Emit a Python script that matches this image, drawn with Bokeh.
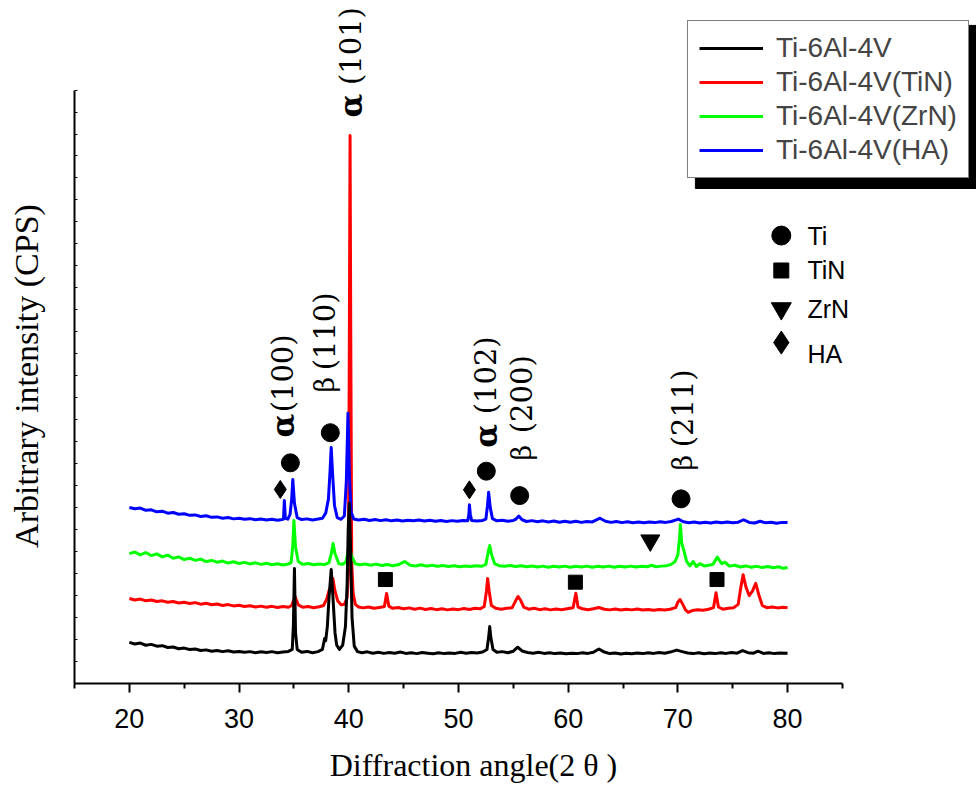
import math
from bokeh.plotting import figure
from bokeh.models import Range1d, FixedTicker, Legend, LegendItem
from bokeh.core.properties import value
from bokeh.embed import file_html
from bokeh.resources import INLINE

# ---------------- data (2-theta, arbitrary stacked intensity) ----------------
black_pts = [(20, 1.87), (20.5, 1.80), (21, 1.84), (21.5, 1.74), (22, 1.78), (22.5, 1.70), (23, 1.72), (23.5, 1.64),
             (24, 1.66), (24.5, 1.58), (25, 1.61), (25.5, 1.55), (26, 1.57), (26.5, 1.50), (27, 1.53), (27.5, 1.47),
             (28, 1.50), (28.5, 1.45), (29, 1.49), (29.5, 1.43), (30, 1.46), (30.5, 1.42), (31, 1.45), (31.5, 1.40),
             (32, 1.44), (32.5, 1.41), (33, 1.45), (33.5, 1.40), (34, 1.43), (34.5, 1.46), (34.85, 1.55), (34.95, 2.6),
             (35.05, 5.23), (35.15, 2.3), (35.3, 1.55), (35.7, 1.42), (36.2, 1.46), (36.7, 1.40), (37.2, 1.45),
             (37.6, 1.55), (37.8, 2.05), (37.9, 1.95), (38.05, 2.6), (38.2, 3.9), (38.4, 5.19), (38.55, 4.0),
             (38.75, 2.3), (38.9, 1.75), (39.15, 1.55), (39.45, 1.75), (39.7, 2.6), (39.85, 4.5), (39.95, 7.0),
             (40.05, 8.2), (40.15, 6.5), (40.3, 3.0), (40.5, 1.7), (40.8, 1.45), (41.2, 1.40), (41.7, 1.44),
             (42.2, 1.38), (42.7, 1.42), (43.2, 1.37), (43.7, 1.41), (44.2, 1.38), (44.7, 1.43), (45.2, 1.37),
             (45.7, 1.40), (46.2, 1.36), (46.7, 1.41), (47.2, 1.38), (47.7, 1.35), (48.2, 1.40), (48.7, 1.36),
             (49.2, 1.39), (49.7, 1.37), (50.2, 1.42), (50.7, 1.38), (51.2, 1.41), (51.7, 1.39), (52.2, 1.43),
             (52.6, 1.55), (52.75, 2.1), (52.85, 2.59), (52.95, 2.1), (53.15, 1.55), (53.5, 1.42), (54.0, 1.45),
             (54.5, 1.40), (55.0, 1.47), (55.4, 1.65), (55.8, 1.48), (56.3, 1.41), (56.8, 1.38), (57.3, 1.42),
             (57.8, 1.37), (58.3, 1.40), (58.8, 1.36), (59.3, 1.39), (59.8, 1.35), (60.3, 1.38), (60.8, 1.36),
             (61.3, 1.40), (61.8, 1.37), (62.3, 1.42), (62.8, 1.57), (63.3, 1.43), (63.8, 1.36), (64.3, 1.39),
             (64.8, 1.34), (65.3, 1.38), (65.8, 1.35), (66.3, 1.39), (66.8, 1.36), (67.3, 1.40), (67.8, 1.37),
             (68.3, 1.41), (68.8, 1.38), (69.3, 1.43), (69.9, 1.52), (70.4, 1.45), (70.9, 1.39), (71.4, 1.36),
             (71.9, 1.40), (72.4, 1.35), (72.9, 1.39), (73.4, 1.36), (73.9, 1.40), (74.4, 1.37), (74.9, 1.41),
             (75.4, 1.38), (75.9, 1.50), (76.4, 1.40), (76.9, 1.38), (77.3, 1.47), (77.8, 1.37), (78.3, 1.40),
             (78.8, 1.36), (79.3, 1.39), (80, 1.38)]

tin_pts = [(20, 3.87), (20.5, 3.80), (21, 3.84), (21.5, 3.76), (22, 3.80), (22.5, 3.73), (23, 3.76), (23.5, 3.70),
           (24, 3.73), (24.5, 3.66), (25, 3.70), (25.5, 3.64), (26, 3.68), (26.5, 3.61), (27, 3.65), (27.5, 3.58),
           (28, 3.62), (28.5, 3.55), (29, 3.59), (29.5, 3.53), (30, 3.56), (30.5, 3.50), (31, 3.54), (31.5, 3.48),
           (32, 3.52), (32.5, 3.47), (33, 3.51), (33.5, 3.46), (34, 3.50), (34.5, 3.47), (34.8, 3.55), (35.1, 3.96),
           (35.4, 3.58), (35.8, 3.47), (36.3, 3.50), (36.8, 3.45), (37.3, 3.49), (37.7, 3.55), (38.0, 3.85),
           (38.2, 4.23), (38.4, 4.4), (38.55, 4.78), (38.75, 4.2), (39.0, 3.75), (39.3, 3.58), (39.6, 3.6),
           (39.85, 3.9), (39.97, 5.0), (40.05, 15.0), (40.12, 24.93), (40.19, 15.0), (40.27, 5.5), (40.4, 4.1),
           (40.6, 3.6), (40.9, 3.48), (41.3, 3.44), (41.8, 3.48), (42.3, 3.42), (42.8, 3.46), (43.25, 3.50),
           (43.45, 4.09), (43.65, 3.52), (44.0, 3.42), (44.5, 3.46), (45.0, 3.40), (45.5, 3.44), (46.0, 3.38),
           (46.5, 3.43), (47.0, 3.37), (47.5, 3.41), (48.0, 3.36), (48.5, 3.40), (49.0, 3.35), (49.5, 3.39),
           (50.0, 3.36), (50.5, 3.41), (51.0, 3.37), (51.5, 3.42), (52.0, 3.40), (52.35, 3.50), (52.55, 4.2),
           (52.66, 4.78), (52.8, 4.2), (53.0, 3.55), (53.4, 3.42), (53.9, 3.38), (54.4, 3.42), (54.9, 3.45),
           (55.2, 3.75), (55.43, 3.96), (55.65, 3.8), (55.95, 3.48), (56.4, 3.38), (56.9, 3.42), (57.4, 3.36),
           (57.9, 3.40), (58.4, 3.35), (58.9, 3.39), (59.4, 3.36), (59.9, 3.40), (60.45, 3.45), (60.7, 4.11),
           (60.9, 3.48), (61.3, 3.40), (61.8, 3.36), (62.3, 3.40), (62.8, 3.46), (63.3, 3.38), (63.8, 3.35),
           (64.3, 3.39), (64.8, 3.34), (65.3, 3.38), (65.8, 3.35), (66.3, 3.39), (66.8, 3.34), (67.3, 3.37),
           (67.8, 3.33), (68.3, 3.37), (68.8, 3.34), (69.3, 3.38), (69.8, 3.45), (70.0, 3.7), (70.2, 3.82),
           (70.45, 3.6), (70.7, 3.35), (70.95, 3.24), (71.3, 3.32), (71.8, 3.36), (72.3, 3.33), (72.8, 3.38),
           (73.25, 3.45), (73.48, 4.13), (73.7, 3.48), (74.1, 3.38), (74.6, 3.42), (75.1, 3.45), (75.5, 3.6),
           (75.75, 4.4), (75.95, 4.95), (76.2, 4.4), (76.5, 4.0), (76.8, 4.2), (77.1, 4.56), (77.4, 4.0),
           (77.7, 3.55), (78.1, 3.45), (78.6, 3.48), (79.1, 3.44), (79.6, 3.47), (80, 3.45)]

zrn_pts = [(20, 5.91), (20.5, 5.98), (21, 5.85), (21.5, 5.96), (22, 5.82), (22.5, 5.90), (23, 5.76), (23.5, 5.84),
           (24, 5.70), (24.5, 5.76), (25, 5.64), (25.5, 5.70), (26, 5.60), (26.5, 5.66), (27, 5.55), (27.5, 5.60),
           (28, 5.52), (28.5, 5.57), (29, 5.48), (29.5, 5.54), (30, 5.46), (30.5, 5.51), (31, 5.44), (31.5, 5.49),
           (32, 5.42), (32.5, 5.47), (33, 5.40), (33.5, 5.45), (34, 5.39), (34.5, 5.44), (34.75, 5.5), (34.9, 6.3),
           (35.0, 7.42), (35.15, 6.2), (35.4, 5.55), (35.8, 5.42), (36.3, 5.46), (36.8, 5.40), (37.3, 5.44),
           (37.8, 5.41), (38.2, 5.5), (38.45, 6.0), (38.57, 6.37), (38.75, 5.9), (39.1, 5.45), (39.5, 5.43),
           (39.75, 5.55), (39.92, 5.95), (40.05, 6.28), (40.25, 5.8), (40.6, 5.45), (41.0, 5.40), (41.5, 5.44),
           (42.0, 5.38), (42.5, 5.43), (43.0, 5.37), (43.5, 5.41), (44.0, 5.36), (44.5, 5.40), (45.1, 5.55),
           (45.6, 5.38), (46.1, 5.35), (46.6, 5.40), (47.1, 5.34), (47.6, 5.38), (48.1, 5.33), (48.6, 5.37),
           (49.1, 5.32), (49.6, 5.36), (50.1, 5.31), (50.6, 5.35), (51.1, 5.32), (51.6, 5.36), (52.1, 5.33),
           (52.5, 5.42), (52.72, 6.0), (52.85, 6.28), (53.0, 5.9), (53.3, 5.45), (53.7, 5.36), (54.2, 5.33),
           (54.7, 5.37), (55.2, 5.32), (55.7, 5.36), (56.2, 5.31), (56.7, 5.35), (57.2, 5.30), (57.7, 5.34),
           (58.2, 5.29), (58.7, 5.33), (59.2, 5.30), (59.7, 5.34), (60.2, 5.29), (60.7, 5.33), (61.2, 5.30),
           (61.7, 5.34), (62.2, 5.29), (62.7, 5.33), (63.2, 5.30), (63.7, 5.34), (64.2, 5.29), (64.7, 5.33),
           (65.2, 5.30), (65.7, 5.34), (66.2, 5.30), (66.7, 5.33), (67.2, 5.31), (67.6, 5.38), (68.0, 5.31),
           (68.5, 5.34), (69.0, 5.36), (69.4, 5.42), (69.75, 5.55), (70.0, 5.85), (70.15, 6.6), (70.23, 7.23),
           (70.35, 6.4), (70.55, 6.05), (70.8, 5.55), (71.1, 5.35), (71.4, 5.55), (71.7, 5.32), (72.0, 5.45),
           (72.4, 5.35), (72.8, 5.38), (73.2, 5.42), (73.6, 5.75), (74.0, 5.45), (74.3, 5.52), (74.7, 5.34),
           (75.2, 5.38), (75.7, 5.30), (76.2, 5.35), (76.7, 5.29), (77.2, 5.33), (77.7, 5.28), (78.2, 5.32),
           (78.7, 5.27), (79.2, 5.31), (79.6, 5.24), (80, 5.28)]

ha_pts = [(20, 8.01), (20.5, 7.95), (21, 7.98), (21.5, 7.88), (22, 7.90), (22.5, 7.81), (23, 7.84), (23.5, 7.75),
          (24, 7.78), (24.5, 7.70), (25, 7.72), (25.5, 7.65), (26, 7.67), (26.5, 7.60), (27, 7.63), (27.5, 7.56),
          (28, 7.58), (28.5, 7.52), (29, 7.55), (29.5, 7.49), (30, 7.52), (30.5, 7.47), (31, 7.50), (31.5, 7.45),
          (32, 7.48), (32.5, 7.44), (33, 7.47), (33.5, 7.43), (33.9, 7.46), (34.05, 7.48), (34.13, 8.33),
          (34.22, 7.52), (34.45, 7.48), (34.65, 7.7), (34.8, 8.4), (34.9, 9.28), (35.05, 8.2), (35.3, 7.55),
          (35.7, 7.46), (36.2, 7.49), (36.7, 7.44), (37.2, 7.48), (37.6, 7.52), (37.9, 7.75), (38.15, 8.4),
          (38.3, 9.7), (38.4, 10.74), (38.52, 9.6), (38.7, 8.1), (38.95, 7.55), (39.3, 7.47), (39.6, 7.62),
          (39.78, 9.2), (39.93, 12.3), (40.07, 9.3), (40.22, 7.8), (40.45, 7.48), (40.9, 7.44), (41.4, 7.47),
          (41.9, 7.42), (42.4, 7.46), (42.9, 7.41), (43.4, 7.45), (43.9, 7.40), (44.4, 7.44), (44.9, 7.39),
          (45.4, 7.43), (45.9, 7.40), (46.4, 7.44), (46.9, 7.39), (47.4, 7.43), (47.9, 7.38), (48.4, 7.42),
          (48.9, 7.37), (49.4, 7.41), (49.9, 7.38), (50.4, 7.42), (50.85, 7.40), (50.95, 7.7), (51.0, 8.13),
          (51.08, 7.7), (51.2, 7.42), (51.7, 7.39), (52.2, 7.42), (52.5, 7.48), (52.65, 8.1), (52.75, 8.70),
          (52.9, 8.0), (53.1, 7.5), (53.5, 7.40), (54.0, 7.43), (54.5, 7.38), (55.0, 7.42), (55.25, 7.48),
          (55.5, 7.62), (55.8, 7.45), (56.2, 7.37), (56.7, 7.41), (57.2, 7.36), (57.7, 7.40), (58.2, 7.35),
          (58.7, 7.39), (59.2, 7.34), (59.7, 7.38), (60.2, 7.34), (60.7, 7.38), (61.2, 7.33), (61.7, 7.37),
          (62.2, 7.35), (62.9, 7.52), (63.4, 7.38), (63.9, 7.33), (64.4, 7.37), (64.9, 7.32), (65.4, 7.36),
          (65.9, 7.31), (66.4, 7.35), (66.9, 7.31), (67.4, 7.35), (67.9, 7.32), (68.4, 7.36), (68.9, 7.33),
          (69.4, 7.37), (70.05, 7.48), (70.5, 7.36), (71.0, 7.31), (71.5, 7.35), (72.0, 7.30), (72.5, 7.34),
          (73.0, 7.30), (73.5, 7.35), (74.0, 7.31), (74.5, 7.35), (75.0, 7.31), (75.5, 7.34), (76.0, 7.45),
          (76.5, 7.33), (77.0, 7.30), (77.5, 7.38), (78.0, 7.31), (78.5, 7.34), (79.0, 7.29), (79.5, 7.33),
          (80, 7.32)]

series_names = ["Ti-6Al-4V", "Ti-6Al-4V(TiN)", "Ti-6Al-4V(ZrN)", "Ti-6Al-4V(HA)"]
series_colors = ["#000000", "#ff0000", "#00ff00", "#0000ff"]

x_ticks = [20, 30, 40, 50, 60, 70, 80]
x_minor = [15, 25, 35, 45, 55, 65, 75, 85]
y_ticks = list(range(0, 28))

# phase markers on the patterns (2-theta, stacked intensity)
ti_x = [34.68, 38.32, 52.54, 55.58, 70.29]
ti_y = [10.04, 11.41, 9.66, 8.55, 8.40]
tin_mx = [43.34, 60.66, 73.57]
tin_my = [4.73, 4.61, 4.73]
zrn_mx = [67.49]
zrn_my = [6.51]
ha_mx = [33.76, 51.0]
ha_my = [8.83, 8.81]

# reflection labels
refl_greek = ["α", "α", "β", "α", "β", "β"]
refl_hkl = ["(101)", "(100)", "(110)", "(102)", "(200)", "(211)"]
refl_x = [40.25, 34.05, 37.80, 52.55, 55.75, 70.45]
refl_greek_y = [26.29, 11.73, 13.59, 11.27, 10.50, 10.05]
refl_hkl_y = [29.0, 14.11, 16.02, 14.02, 13.16, 12.52]

phase_names = ["Ti", "TiN", "ZrN", "HA"]

x_title = "Diffraction angle(2 θ )"
y_title = "Arbitrary intensity (CPS)"
NBSP = "\u00a0"

# ---------------- figure ----------------
PX_X = 10.97     # pixels per degree
PX_Y = 21.98     # pixels per intensity unit
W, H = 976, 790
LEFT, BOTTOM = 74, 107
x_end = 15 + (W - LEFT) / PX_X
y_end = 0 + (H - BOTTOM) / PX_Y

p = figure(width=W, height=H, output_backend="svg", toolbar_location=None,
           x_range=Range1d(15, x_end), y_range=Range1d(0, y_end),
           min_border_left=LEFT, min_border_right=0, min_border_top=0,
           min_border_bottom=BOTTOM)
p.outline_line_color = None
p.xgrid.visible = False
p.ygrid.visible = False
p.background_fill_color = "white"
p.border_fill_color = "white"

xa = p.xaxis[0]
xa.bounds = (15, 85)
xa.ticker = FixedTicker(ticks=x_ticks, minor_ticks=x_minor)
xa.axis_line_width = 2
xa.major_tick_line_width = 2
xa.minor_tick_line_width = 2
xa.major_tick_in = 0
xa.major_tick_out = 9
xa.minor_tick_in = 0
xa.minor_tick_out = 5
xa.major_label_text_font = "Liberation Sans Narrow, Liberation Sans"
xa.major_label_text_font_size = "27px"
xa.major_label_text_color = "black"
xa.major_label_standoff = 16
# trailing no-break spaces shift the centred title left to where the reference has it
xa.axis_label = x_title + NBSP * 13
xa.axis_label_text_font = "Liberation Serif"
xa.axis_label_text_font_style = "normal"
xa.axis_label_text_font_size = "32px"
xa.axis_label_text_color = "black"
xa.axis_label_standoff = 16

ya = p.yaxis[0]
ya.bounds = (0, 27)
ya.ticker = FixedTicker(ticks=y_ticks, minor_ticks=[])
ya.axis_line_width = 2
ya.major_tick_line_width = 1
ya.major_tick_in = 3
ya.major_tick_out = 0
ya.minor_tick_in = 0
ya.minor_tick_out = 0
ya.major_label_overrides = {t: "" for t in y_ticks}
ya.major_label_standoff = 0
ya.axis_label = y_title + NBSP * 8
ya.axis_label_text_font = "Liberation Serif"
ya.axis_label_text_font_style = "normal"
ya.axis_label_text_font_size = "34px"
ya.axis_label_text_color = "black"
ya.axis_label_standoff = 30

# legend shadow
p.quad(left=[71.60], right=[x_end], top=[29.94], bottom=[22.52], color="black")

renderers = {}
draw_order = [1, 3, 2, 0]
all_pts = [black_pts, tin_pts, zrn_pts, ha_pts]
for i in draw_order:
    xs, ys = zip(*all_pts[i])
    renderers[i] = p.line(list(xs), list(ys), line_color=series_colors[i], line_width=3,
                          line_join="round")

# phase markers
p.scatter(ti_x, ti_y, marker="circle", size=18, color="black")
p.scatter(tin_mx, tin_my, marker="square", size=14, color="black")
p.scatter(zrn_mx, zrn_my, marker="inverted_triangle", size=19, color="black")
p.scatter(ha_mx, ha_my, marker="diamond", size=18, color="black")

# reflection labels
alpha_idx = [i for i, g in enumerate(refl_greek) if g == "α"]
beta_idx = [i for i, g in enumerate(refl_greek) if g == "β"]
p.text([refl_x[i] for i in alpha_idx], [refl_greek_y[i] for i in alpha_idx], text=[refl_greek[i] for i in alpha_idx],
       angle=math.pi / 2, text_align="center", text_baseline="alphabetic",
       text_font=value("DejaVu Serif"), text_font_style="bold", text_font_size=value("31px"), text_color="black")
p.text([refl_x[i] for i in beta_idx], [refl_greek_y[i] for i in beta_idx], text=[refl_greek[i] for i in beta_idx],
       angle=math.pi / 2, text_align="center", text_baseline="alphabetic",
       text_font=value("DejaVu Serif"), text_font_size=value("27px"), text_color="black")
p.text(refl_x, refl_hkl_y, text=refl_hkl,
       angle=math.pi / 2, text_align="center", text_baseline="alphabetic",
       text_font=value("DejaVu Serif"), text_font_size=value("29px"), text_color="black")

# phase symbol key
key_x = 79.43
key_y = [20.38, 18.79, 17.06, 15.51]
key_text_x = 81.81
key_text_y = [20.38, 18.79, 17.06, 15.01]
p.scatter([key_x], [key_y[0]], marker="circle", size=19, color="black")
p.scatter([key_x], [key_y[1]], marker="square", size=15, color="black")
p.scatter([key_x], [key_y[2]], marker="inverted_triangle", size=20, color="black")
p.scatter([key_x], [key_y[3]], marker="diamond", size=23, color="black")
p.text([key_text_x] * 4, key_text_y, text=phase_names, text_align="left", text_baseline="middle",
       text_font=value("Liberation Sans"), text_font_size=value("25px"), text_color="black")

# series legend
legend = Legend(items=[LegendItem(label=series_names[i], renderers=[renderers[i]]) for i in range(4)],
                location=(613, 505), orientation="vertical")
legend.border_line_color = "black"
legend.border_line_width = 1.5
legend.background_fill_color = "white"
legend.background_fill_alpha = 1.0
legend.label_text_font = "Liberation Sans"
legend.label_text_font_size = "28px"
legend.glyph_width = 64
legend.glyph_height = 30
legend.label_height = 30
legend.label_standoff = 13
legend.spacing = 2
legend.padding = 11
legend.margin = 0
p.add_layout(legend)

open("out.html", "w").write(file_html(p, INLINE))
